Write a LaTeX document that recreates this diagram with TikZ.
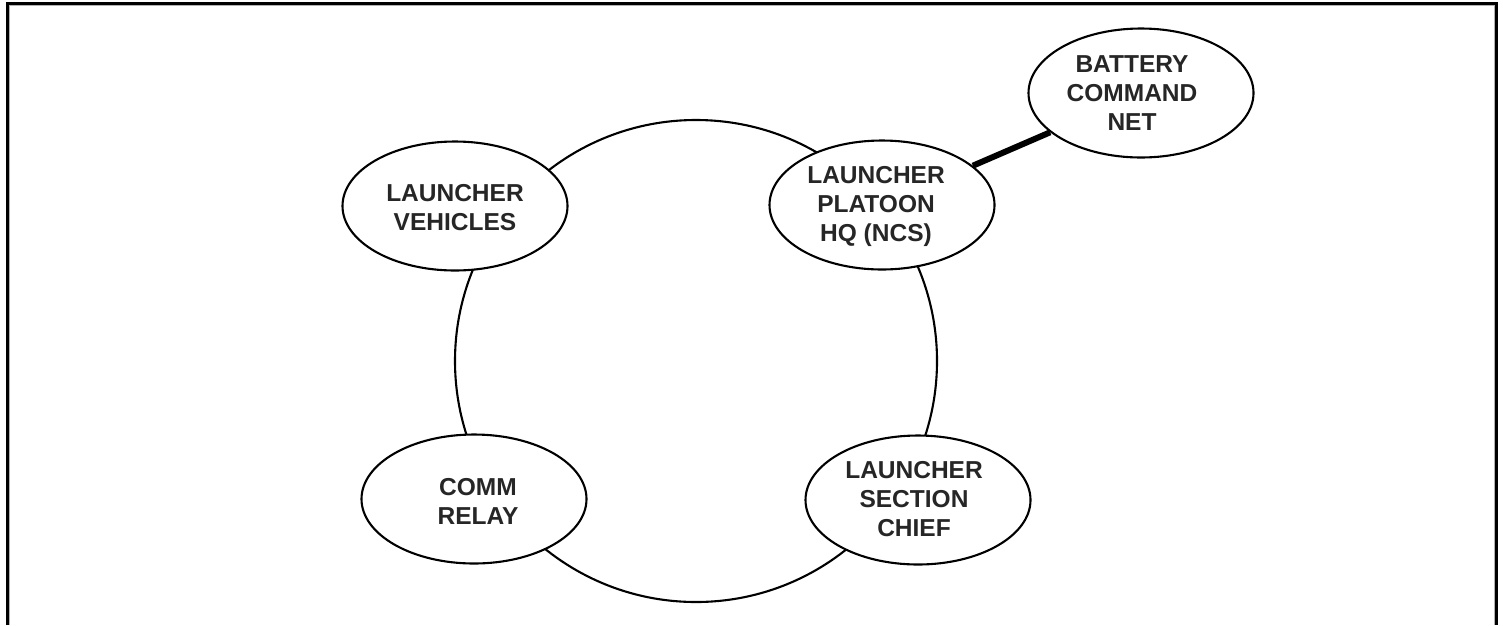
\documentclass[tikz,border=0pt]{standalone}
\usepackage{fontspec}
\setmainfont{Liberation Sans}
\usetikzlibrary{shapes.geometric}
% stacked, centred lines of a label, lowered a little inside an unchanged box
\newcommand{\stack}[2][3pt]{\raisebox{-#1}[\height][\depth]{\begin{tabular}{@{}c@{}}#2\end{tabular}}}
\begin{document}
\begin{tikzpicture}[x=1pt,y=-1pt,
  netnode/.style={ellipse,draw=black,line width=2.1pt,fill=white,
    minimum width=225pt,minimum height=129pt,inner sep=0pt,
    font=\fontsize{24.5}{29}\selectfont\bfseries,text=black!85},
  ring/.style={circle,draw=black,line width=2.1pt,minimum size=482pt,inner sep=0pt},
  link/.style={line width=6pt,black}]
  \useasboundingbox (0,0) rectangle (1503,625);
  % frame, open at the bottom
  \draw[line width=3pt,black] (7.5,625) -- (7.5,3.5) -- (1496.5,3.5) -- (1496.5,625);
  \draw[line width=1pt,black!30] (9.5,625) -- (9.5,5.5) -- (1494.5,5.5) -- (1494.5,625);
  % the platoon net
  \node[ring] (net) at (696,361) {};
  \node[netnode] (veh)   at (455,206) {\stack[4pt]{LAUNCHER\\VEHICLES}};
  \node[netnode] (hq)    at (882,205) {\stack[1.5pt]{LAUNCHER\\PLATOON\\HQ (NCS)}\kern12pt};
  \node[netnode] (relay) at (474,499) {\kern8pt\stack[5.5pt]{COMM\\RELAY}};
  \node[netnode] (chief) at (918,500) {\stack[2pt]{LAUNCHER\\SECTION\\CHIEF}\kern8pt};
  \node[netnode] (bcn)   at (1141,93) {\stack[3pt]{BATTERY\\COMMAND\\NET}\kern18pt};
  % link to the battery command net
  \draw[link] (hq) -- (bcn);
\end{tikzpicture}
\end{document}
